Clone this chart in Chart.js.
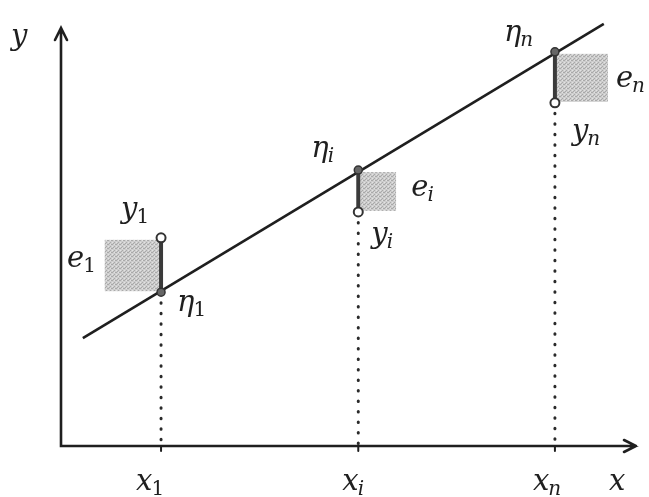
<!DOCTYPE html>
<html>
<head>
<meta charset="utf-8">
<script src="https://cdn.jsdelivr.net/npm/chart.js@4"></script>
<style>
body { margin: 0; background: #fff; }
</style>
</head>
<body>
<canvas id="lsqChart" width="649" height="497"></canvas>
<script>
// observations and fitted values (axis units 0..10)
var subNames = ['1', 'i', 'n'];
var xPos = [1.74, 5.17, 8.59];
var yObs = [4.98, 5.60, 8.21];
var etaFit = [3.68, 6.60, 9.43];
// regression line ends
var lineX = [0.38, 9.44];
var lineY = [2.58, 10.1];

var ink = '#1f1f1f';
var labFont = '"DejaVu Serif", serif';

function pts(xs, ys) {
    return xs.map(function (x, i) { return { x: x, y: ys[i] }; });
}

// vertical residual bars and dotted drop lines, split with gaps
var residData = [];
var dropData = [];
xPos.forEach(function (x, i) {
    residData.push({ x: x, y: yObs[i] }, { x: x, y: etaFit[i] }, { x: x, y: null });
    dropData.push({ x: x, y: Math.min(yObs[i], etaFit[i]) }, { x: x, y: 0 }, { x: x, y: null });
});

function stipple() {
    var c = document.createElement('canvas');
    c.width = 4; c.height = 4;
    var g = c.getContext('2d');
    g.fillStyle = '#cdcdcd';
    g.fillRect(0, 0, 4, 4);
    g.fillStyle = '#a9a9a9';
    g.fillRect(0, 0, 1, 1); g.fillRect(2, 2, 1, 1); g.fillRect(3, 0, 1, 1); g.fillRect(1, 3, 1, 1);
    g.fillStyle = '#e2e2e2';
    g.fillRect(2, 0, 1, 1); g.fillRect(0, 2, 1, 1);
    return c;
}

function label(ctx, main, sub, x, base, subItalic) {
    ctx.fillStyle = ink;
    ctx.textBaseline = 'alphabetic';
    ctx.textAlign = 'left';
    ctx.font = 'italic 29px ' + labFont;
    ctx.fillText(main, x, base);
    if (!sub) return;
    var w = ctx.measureText(main).width;
    ctx.font = (subItalic ? 'italic ' : '') + '20px ' + labFont;
    ctx.fillText(sub, x + w - 1, base + 5);
}

var diagram = {
    id: 'diagram',
    beforeDatasetsDraw: function (chart) {
        var ctx = chart.ctx, xs = chart.scales.x, ys = chart.scales.y;
        var dir = [-1, 1, 1];
        ctx.save();
        ctx.fillStyle = ctx.createPattern(stipple(), 'repeat');
        xPos.forEach(function (x, i) {
            var px = xs.getPixelForValue(x);
            var top = ys.getPixelForValue(Math.max(yObs[i], etaFit[i]));
            var side = Math.abs(ys.getPixelForValue(yObs[i]) - ys.getPixelForValue(etaFit[i]));
            var w = i === 1 ? side - 6 : side;
            var left = dir[i] < 0 ? px - w - 2 : px + 2;
            ctx.fillRect(left, top + 2, w, side - 3);
        });
        // axes with open arrow heads
        var x0 = xs.getPixelForValue(0), y0 = ys.getPixelForValue(0);
        var xEnd = xs.getPixelForValue(10), yEnd = ys.getPixelForValue(10);
        ctx.strokeStyle = ink;
        ctx.lineWidth = 2.6;
        ctx.lineCap = 'round';
        ctx.beginPath();
        ctx.moveTo(x0, yEnd); ctx.lineTo(x0, y0); ctx.lineTo(xEnd, y0);
        ctx.moveTo(x0 - 6, yEnd + 12); ctx.lineTo(x0, yEnd); ctx.lineTo(x0 + 6, yEnd + 12);
        ctx.moveTo(xEnd - 12, y0 - 6); ctx.lineTo(xEnd, y0); ctx.lineTo(xEnd - 12, y0 + 6);
        ctx.stroke();
        ctx.lineWidth = 2;
        ctx.beginPath();
        xPos.forEach(function (x) {
            var px = xs.getPixelForValue(x);
            ctx.moveTo(px, y0); ctx.lineTo(px, y0 + 5);
        });
        ctx.stroke();
        ctx.restore();
    },
    afterDraw: function (chart) {
        var ctx = chart.ctx, xs = chart.scales.x, ys = chart.scales.y;
        var px = xPos.map(function (v) { return xs.getPixelForValue(v); });
        var pyO = yObs.map(function (v) { return ys.getPixelForValue(v); });
        var pyE = etaFit.map(function (v) { return ys.getPixelForValue(v); });
        var y0 = ys.getPixelForValue(0);
        ctx.save();
        label(ctx, 'y', '', 11, 45);
        label(ctx, 'x', '', 609, y0 + 44);
        var xOff = [-25, -16, -22];
        subNames.forEach(function (s, i) {
            label(ctx, 'x', s, px[i] + xOff[i], y0 + 44, s !== '1');
        });
        // point labels
        label(ctx, 'y', '1', px[0] - 40, pyO[0] - 20, false);
        label(ctx, 'e', '1', px[0] - 94, pyE[0] - 25, false);
        label(ctx, '\u03B7', '1', px[0] + 16, pyE[0] + 19, false);
        label(ctx, '\u03B7', 'i', px[1] - 47, pyE[1] - 13, true);
        label(ctx, 'e', 'i', px[1] + 53, pyE[1] + 26, true);
        label(ctx, 'y', 'i', px[1] + 13, pyO[1] + 31, true);
        label(ctx, '\u03B7', 'n', px[2] - 51, pyE[2] - 11, true);
        label(ctx, 'e', 'n', px[2] + 61, pyE[2] + 35, true);
        label(ctx, 'y', 'n', px[2] + 17, pyO[2] + 37, true);
        ctx.restore();
    }
};

var ctx = document.getElementById('lsqChart').getContext('2d');
var chart = new Chart(ctx, {
    type: 'scatter',
    data: {
        datasets: [{
            label: 'fitted',
            data: pts(xPos, etaFit),
            pointRadius: 4,
            pointBackgroundColor: '#666',
            pointBorderColor: '#333',
            pointBorderWidth: 1.5,
            order: 0
        }, {
            label: 'observed',
            data: pts(xPos, yObs),
            pointRadius: 4.5,
            pointBackgroundColor: '#fff',
            pointBorderColor: '#333',
            pointBorderWidth: 2,
            order: 0
        }, {
            label: 'residual',
            type: 'line',
            data: residData,
            borderColor: '#3a3a3a',
            borderWidth: 4,
            pointRadius: 0,
            spanGaps: false,
            order: 1
        }, {
            label: 'line',
            type: 'line',
            data: pts(lineX, lineY),
            borderColor: ink,
            borderWidth: 2.6,
            pointRadius: 0,
            clip: false,
            order: 2
        }, {
            label: 'drop',
            type: 'line',
            data: dropData,
            borderColor: '#2a2a2a',
            borderWidth: 3,
            borderDash: [0.5, 10],
            borderCapStyle: 'round',
            pointRadius: 0,
            spanGaps: false,
            order: 3
        }]
    },
    options: {
        responsive: false,
        animation: false,
        layout: {
            padding: { left: 61, right: 13, top: 28, bottom: 51 }
        },
        scales: {
            x: { type: 'linear', min: 0, max: 10, display: false },
            y: { type: 'linear', min: 0, max: 10, display: false }
        },
        plugins: {
            legend: { display: false },
            tooltip: { enabled: false }
        }
    },
    plugins: [diagram]
});
</script>
</body>
</html>
